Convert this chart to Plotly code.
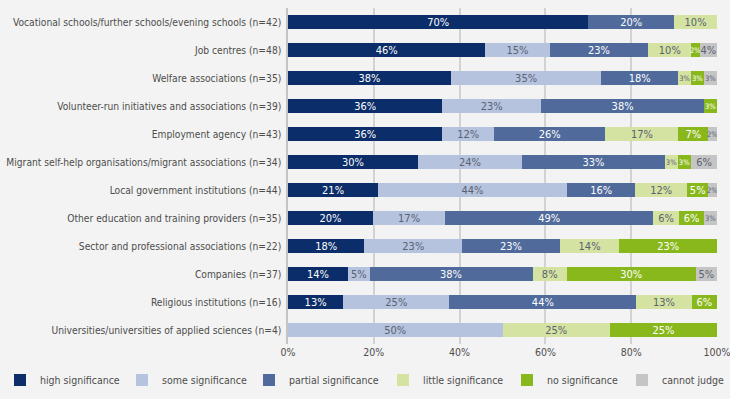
import plotly.graph_objects as go

categories = [
    "Vocational schools/further schools/evening schools (n=42)",
    "Job centres (n=48)",
    "Welfare associations (n=35)",
    "Volunteer-run initiatives and associations (n=39)",
    "Employment agency (n=43)",
    "Migrant self-help organisations/migrant associations (n=34)",
    "Local government institutions (n=44)",
    "Other education and training providers (n=35)",
    "Sector and professional associations (n=22)",
    "Companies (n=37)",
    "Religious institutions (n=16)",
    "Universities/universities of applied sciences (n=4)",
]

high_significance = [70, 46, 38, 36, 36, 30, 21, 20, 18, 14, 13, None]
some_significance = [None, 15, 35, 23, 12, 24, 44, 17, 23, 5, 25, 50]
partial_significance = [20, 23, 18, 38, 26, 33, 16, 49, 23, 38, 44, None]
little_significance = [10, 10, 3, None, 17, 3, 12, 6, 14, 8, 13, 25]
no_significance = [None, 2, 3, 3, 7, 3, 5, 6, 23, 30, 6, 25]
cannot_judge = [None, 4, 3, None, 2, 6, 2, 3, None, 5, None, None]

series_names = ["high significance", "some significance", "partial significance",
                "little significance", "no significance", "cannot judge"]
series_values = [high_significance, some_significance, partial_significance,
                 little_significance, no_significance, cannot_judge]
series_colors = ["#0b2d69", "#b6c3de", "#4f6a9b", "#d4e3a2", "#89b81c", "#c5c5c5"]
text_colors = ["#ffffff", "#5a6272", "#ffffff", "#5a6272", "#ffffff", "#5a6272"]

tick_vals = [0, 20, 40, 60, 80, 100]
tick_text = ["0%", "20%", "40%", "60%", "80%", "100%"]

# x position (px) where each legend text starts in the picture
legend_text_x = [40, 162, 289, 423, 547, 662]

FONT = "DejaVu Sans Condensed, Liberation Sans Narrow, Arial Narrow, sans-serif"
W, H = 730, 399

fig = go.Figure()
legend_layouts = {}
for i, (name, vals, col, tcol) in enumerate(zip(series_names, series_values, series_colors, text_colors)):
    lname = "legend" if i == 0 else f"legend{i + 1}"
    sizes = [7.5 if (v is not None and v <= 3) else 11 for v in vals]
    fig.add_trace(go.Bar(
        y=categories, x=vals, name=name, orientation="h",
        marker=dict(color=col, line=dict(width=0)),
        text=[f"{v}%" if v is not None else "" for v in vals],
        textposition="inside", insidetextanchor="middle", constraintext="none",
        textangle=0,
        textfont=dict(color=tcol, size=sizes, family=FONT),
        hoverinfo="skip", legend=lname,
    ))
    legend_layouts[lname] = dict(
        orientation="h", xref="container", yref="container",
        x=max(0, (legend_text_x[i] - 40) / W), xanchor="left",
        y=1 - 380 / H, yanchor="middle",
        font=dict(size=10.5, color="#4d4d4d", family=FONT),
        bgcolor="rgba(0,0,0,0)",
    )

fig.update_layout(
    barmode="stack",
    barnorm="percent",
    bargap=0.5,
    width=W, height=H,
    margin=dict(l=288, r=13, t=8, b=55, autoexpand=False),
    paper_bgcolor="#f3f3f3",
    plot_bgcolor="#f3f3f3",
    font=dict(family=FONT, size=10.2, color="#4d4d4d"),
    showlegend=True,
    xaxis=dict(
        range=[0, 100], tickvals=tick_vals, ticktext=tick_text,
        showgrid=True, gridcolor="#d2d2d2", gridwidth=1.5,
        zeroline=False, showline=False, ticks="", fixedrange=True,
        ticklabeloverflow="allow",
        tickfont=dict(size=10.5, color="#4d4d4d"),
    ),
    yaxis=dict(
        autorange="reversed", showline=True, linecolor="#c4c4c4", linewidth=1.5,
        ticks="", ticksuffix=" ", tickfont=dict(size=10.2, color="#4d4d4d"),
        showgrid=False, fixedrange=True,
    ),
    **legend_layouts,
)

fig.write_html(
    "out.html",
    config={"displayModeBar": False},
    post_script="document.body.style.margin='0';document.body.style.background='#f3f3f3';",
)
